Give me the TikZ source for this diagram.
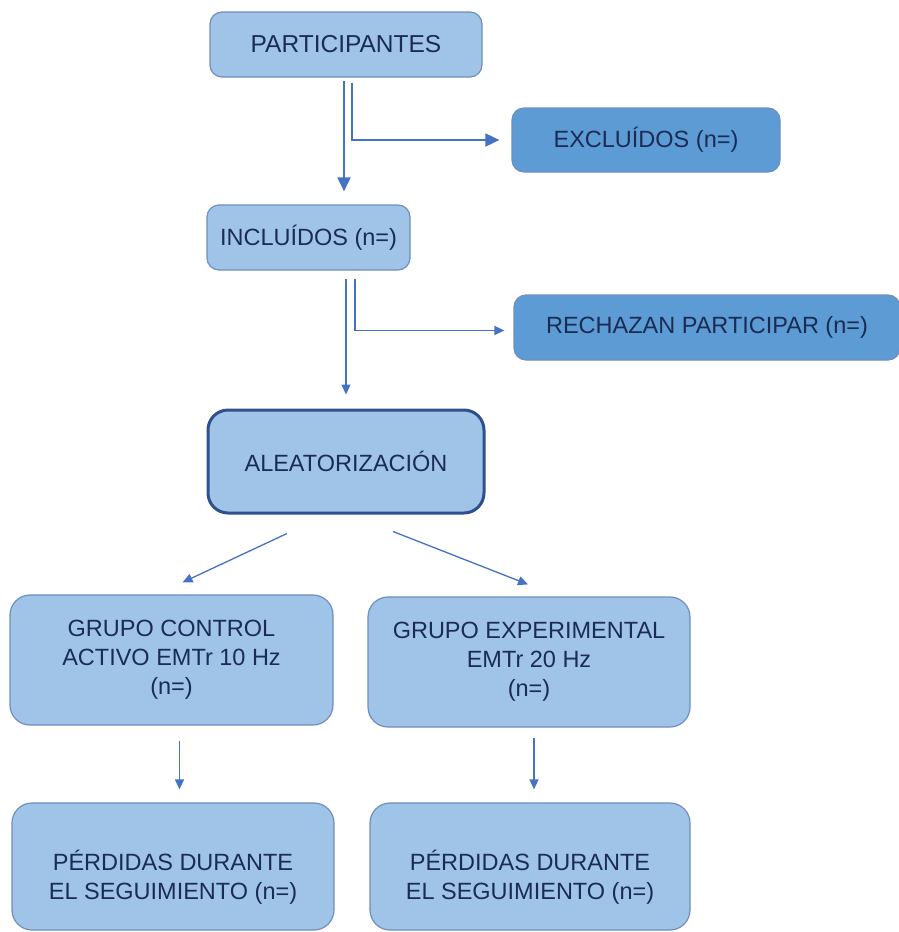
\documentclass[tikz,border=0pt]{standalone}
\usepackage{fontspec}
\setmainfont{Liberation Sans}
\usetikzlibrary{arrows.meta}

\definecolor{boxfill}{RGB}{160,196,232}
\definecolor{boxline}{RGB}{112,142,190}
\definecolor{darkfill}{RGB}{93,155,213}
\definecolor{textblue}{RGB}{26,44,84}
\definecolor{arrowblue}{RGB}{68,114,196}
\definecolor{thickline}{RGB}{47,80,140}

\newcommand{\topstrut}{\rule{0pt}{41pt}}

\tikzset{
  stagebox/.style={draw=boxline, fill=boxfill, line width=1.2pt, rounded corners=12pt,
    text=textblue, align=center, inner sep=0pt, font=\fontsize{23.5}{29}\selectfont},
  exitbox/.style={stagebox, fill=darkfill},
  randbox/.style={stagebox, draw=thickline, line width=3pt, rounded corners=20pt},
  groupbox/.style={stagebox, rounded corners=20pt},
  flow/.style={draw=arrowblue, line width=1.8pt, -{Triangle[length=14pt,width=13pt]}},
  thinflow/.style={draw=arrowblue, line width=1.3pt, -{Triangle[length=10pt,width=9pt]}}
}

\begin{document}
\begin{tikzpicture}[x=1pt,y=1pt,yscale=-1]
        \useasboundingbox (0,0) rectangle (899,932);

        \node [stagebox, minimum width=272pt, minimum height=65pt, font=\fontsize{24.5}{29}\selectfont] (part) at (346,44.5) {PARTICIPANTES};
        \node [exitbox, minimum width=268pt, minimum height=64pt] (excl) at (646,140) {EXCLUÍDOS (n=)};
        \node [stagebox, minimum width=203pt, minimum height=65pt] (incl) at (308.5,237.5) {INCLUÍDOS (n=)};
        \node [exitbox, minimum width=386pt, minimum height=65pt] (rech) at (707,327.5) {RECHAZAN PARTICIPAR (n=)};
        \node [randbox, minimum width=276pt, minimum height=103pt] (alea) at (346,461.5) {ALEATORIZACIÓN};
        \node [groupbox, minimum width=323pt, minimum height=130pt] (ctrl) at (171.5,660) {GRUPO CONTROL\\ACTIVO EMTr 10 Hz\\(n=)};
        \node [groupbox, minimum width=322pt, minimum height=130pt] (expe) at (529,662) {GRUPO EXPERIMENTAL\\EMTr 20 Hz\\(n=)};
        \node [groupbox, minimum width=322pt, minimum height=127pt] (lossL) at (173,866.5) {\topstrut PÉRDIDAS DURANTE\\EL SEGUIMIENTO (n=)};
        \node [groupbox, minimum width=320pt, minimum height=127pt] (lossR) at (530,866.5) {\topstrut PÉRDIDAS DURANTE\\EL SEGUIMIENTO (n=)};

        % participantes
        \draw [flow, shorten >=13pt] ([xshift=-2pt,yshift=3pt]part.south) -- ([xshift=-2pt]part.south |- incl.north);
        \draw [flow, shorten >=12pt] ([xshift=6pt,yshift=5pt]part.south) |- (excl.west);
        % incluidos
        \draw [thinflow, shorten >=14pt] ([yshift=8pt]incl.south -| alea.north) -- (alea.north);
        \draw [thinflow, shorten >=9pt] ([xshift=9pt,yshift=8pt]incl.south -| alea.north) |- ([yshift=3pt]rech.west);
        % grupos
        \draw [thinflow] ([xshift=-59pt,yshift=19pt]alea.south) -- ([xshift=11pt,yshift=-12pt]ctrl.north);
        \draw [thinflow] ([xshift=47pt,yshift=17pt]alea.south) -- ([xshift=-1pt,yshift=-12pt]expe.north);
        \draw [thinflow, shorten >=13pt] ([xshift=8pt,yshift=15pt]ctrl.south) -- ([xshift=8pt]ctrl.south |- lossL.north);
        \draw [thinflow, shorten >=13pt] ([xshift=5pt,yshift=10pt]expe.south) -- ([xshift=5pt]expe.south |- lossR.north);
\end{tikzpicture}
\end{document}
